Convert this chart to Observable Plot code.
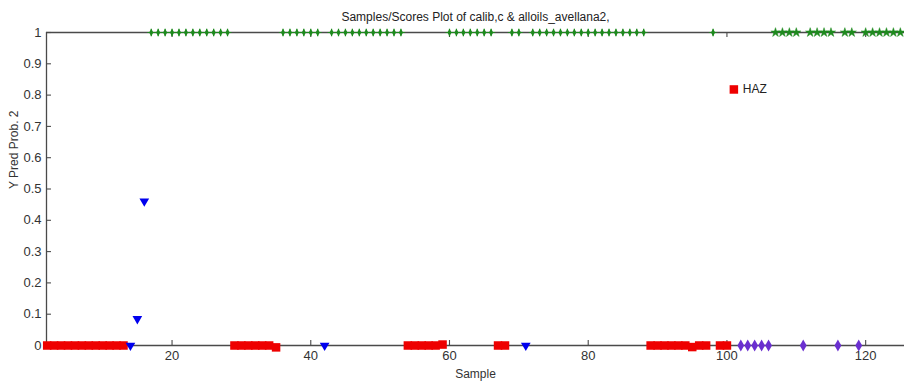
<!DOCTYPE html>
<html>
<head>
<meta charset="utf-8">
<script src="https://cdn.jsdelivr.net/npm/d3@7"></script>
<script src="https://cdn.jsdelivr.net/npm/@observablehq/plot@0.6"></script>
<style>
  html, body { margin: 0; padding: 0; background: #fff; }
  #chart svg { display: block; }
</style>
</head>
<body>
<div id="chart"></div>
<script>
// Class 1 (red squares), incl. the labelled sample HAZ
const redSamples = [2, 3, 4, 5, 6, 7, 8, 9, 10, 11, 12, 13,
  29, 30, 31, 32, 33, 34, 35,
  54, 55, 56, 57, 58, 59,
  67, 68,
  89, 90, 91, 92, 93, 94, 95, 96, 97,
  99, 100, 101];
const redValues = [0, 0, 0, 0, 0, 0, 0, 0, 0, 0, 0, 0,
  0, 0, 0, 0, 0, 0, -0.006,
  0, 0, 0, 0, 0, 0.003,
  0, 0,
  0, 0, 0, 0, 0, 0, -0.005, 0, 0,
  0, 0, 0.818];
const redLabels = ["", "", "", "", "", "", "", "", "", "", "", "",
  "", "", "", "", "", "", "",
  "", "", "", "", "", "",
  "", "",
  "", "", "", "", "", "", "", "", "",
  "", "", "HAZ"];

// Class 2 (blue triangles)
const blueSamples = [14, 15, 16, 42, 71];
const blueValues = [0, 0.085, 0.461, 0, 0];

// Class 3 (purple diamonds)
const purpleSamples = [102, 103, 104, 105, 106, 111, 116, 119, 126];
const purpleValues = [0, 0, 0, 0, 0, 0, 0, 0, 0];

// Class 4, calibration (green crosses)
const greenCalSamples = [17, 18, 19, 20, 21, 22, 23, 24, 25, 26, 27, 28,
  36, 37, 38, 39, 40, 41,
  43, 44, 45, 46, 47, 48, 49, 50, 51, 52, 53,
  60, 61, 62, 63, 64, 65, 66,
  69, 70,
  72, 73, 74, 75, 76, 77, 78, 79, 80, 81, 82, 83, 84, 85, 86, 87, 88,
  98];
const greenCalValues = greenCalSamples.map(() => 1);

// Class 4, test (green stars)
const greenTestSamples = [107, 108, 109, 110, 112, 113, 114, 115, 117, 118,
  120, 121, 122, 123, 124, 125];
const greenTestValues = [1, 1, 1, 1, 1, 1, 1, 1, 1, 1, 1, 1, 1, 1, 1, 1];

const xTicks = [20, 40, 60, 80, 100, 120];
const yTicks = [0, 0.1, 0.2, 0.3, 0.4, 0.5, 0.6, 0.7, 0.8, 0.9, 1];
const yTickLabels = ["0", "0.1", "0.2", "0.3", "0.4", "0.5", "0.6", "0.7", "0.8", "0.9", "1"];

const titleText = "Samples/Scores Plot of calib,c & alloils_avellana2,";
const xLabel = "Sample";
const yLabel = "Y Pred Prob. 2";

const xDomain = [1.9, 125.6];
const yDomain = [0, 1];

const rows = (xs, ys, extra) => xs.map((x, i) => ({x, y: ys[i], ...(extra ? {label: extra[i]} : {})}));
const red = rows(redSamples, redValues, redLabels);
const blue = rows(blueSamples, blueValues);
const purple = rows(purpleSamples, purpleValues);
const greenCal = rows(greenCalSamples, greenCalValues);
const greenTest = rows(greenTestSamples, greenTestValues);

const axisColor = "#4a4a4a";
const sans = "'Liberation Sans', Arial, sans-serif";
const tickLen = 0.016;                       // in y units (~5px)
const yTickLen = (xDomain[1] - xDomain[0]) * 0.0058; // in x units (~5px)

const chart = Plot.plot({
  width: 904,
  height: 383,
  marginLeft: 46,
  marginRight: 0,
  marginTop: 32,
  marginBottom: 38,
  style: {fontFamily: sans, fontSize: "13px", color: "#333", background: "#fff"},
  x: {domain: xDomain, axis: null},
  y: {domain: yDomain, axis: null},
  marks: [
    // box lines
    Plot.ruleY([yDomain[0], yDomain[1]], {stroke: axisColor, strokeWidth: 1.3}),
    Plot.ruleX([xDomain[0]], {stroke: axisColor, strokeWidth: 1.3}),
    // inward ticks
    Plot.ruleX(xTicks, {y1: 0, y2: tickLen, stroke: axisColor, strokeWidth: 1.1}),
    Plot.ruleX(xTicks, {y1: 1, y2: 1 - tickLen, stroke: axisColor, strokeWidth: 1.1}),
    Plot.ruleY(yTicks, {x1: xDomain[0], x2: xDomain[0] + yTickLen, stroke: axisColor, strokeWidth: 1.1}),
    // tick labels
    Plot.axisX({ticks: xTicks, tickSize: 0, tickPadding: 5, label: null, fill: "#333", fontSize: 13}),
    Plot.axisY({ticks: yTicks, tickSize: 0, tickPadding: 5, label: null, fill: "#333", fontSize: 13,
      tickFormat: (d) => yTickLabels[yTicks.indexOf(d)]}),
    // class markers
    Plot.dot(red, {x: "x", y: "y", symbol: "square", r: 4.8, fill: "#ee0000", stroke: "none"}),
    Plot.dot(blue, {x: "x", y: "y", symbol: "triangle", rotate: 180, r: 3.6, fill: "#0000ee", stroke: "none"}),
    Plot.dot(purple, {x: "x", y: "y", symbol: "diamond", r: 3.6, fill: "#6a2fd0", stroke: "none"}),
    Plot.dot(greenCal, {x: "x", y: "y", symbol: "diamond", r: 2.2, fill: "#1e8a1e", stroke: "none"}),
    Plot.dot(greenCal, {x: "x", y: "y", symbol: "plus", r: 2.6, stroke: "#1e8a1e", strokeWidth: 1.2}),
    Plot.dot(greenTest, {x: "x", y: "y", symbol: "star", r: 2.9, fill: "#1e8a1e", stroke: "#1e8a1e", strokeWidth: 0.5}),
    // sample label
    Plot.text(red.filter((d) => d.label), {x: "x", y: "y", text: "label", textAnchor: "start", dx: 9,
      fontSize: 12, fill: "#222"}),
    // titles
    Plot.text([titleText], {frameAnchor: "top", dy: -20, fontSize: 12, fill: "#222"}),
    Plot.text([xLabel], {frameAnchor: "bottom", dy: 32, fontSize: 12, fill: "#333"}),
    Plot.text([yLabel], {frameAnchor: "left", dx: -32, rotate: -90, fontSize: 12, fill: "#333"})
  ]
});

document.getElementById("chart").appendChild(chart);
</script>
</body>
</html>
